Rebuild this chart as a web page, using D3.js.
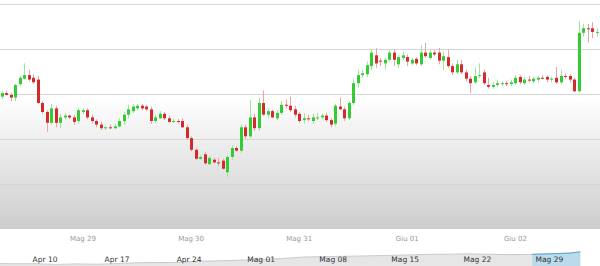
<!DOCTYPE html>
<html>
  <head>
    <meta charset="utf-8" />
    <title>EUR/USD 1h</title>
    <style>
      body {
        margin: 0;
        background: #fff;
      }

      #chart {
        width: 600px;
        height: 266px;
        overflow: hidden;
      }

      text {
        font-family: "DejaVu Sans", Verdana, sans-serif;
      }
    </style>
    <script src="https://d3js.org/d3.v7.min.js"></script>
  </head>
  <body>
    <div id="chart"></div>

    <script type="text/javascript">
      // hourly candles, Mag 28 06:00 -> Giu 02 18:00
      var hours = d3.timeHour.range(new Date(2017, 4, 28, 6), new Date(2017, 5, 2, 19));

      var open = [
        1.1197, 1.1201, 1.1199, 1.1196, 1.1211, 1.1217, 1.1221, 1.1218, 1.1216, 1.1190,
        1.1180, 1.1168, 1.1184, 1.1168, 1.1174, 1.1176, 1.1174, 1.1170, 1.1180, 1.1182,
        1.1174, 1.1170, 1.1166, 1.1162, 1.1163, 1.1162, 1.1164, 1.1170, 1.1177, 1.1181,
        1.1184, 1.1187, 1.1186, 1.1183, 1.1170, 1.1173, 1.1178, 1.1173, 1.1169, 1.1170,
        1.1170, 1.1163, 1.1151, 1.1138, 1.1128, 1.1133, 1.1122, 1.1127, 1.1124, 1.1126,
        1.1113, 1.1130, 1.1140, 1.1137, 1.1163, 1.1153, 1.1174, 1.1162, 1.1190, 1.1177,
        1.1181, 1.1173, 1.1179, 1.1188, 1.1187, 1.1183, 1.1178, 1.1171, 1.1173, 1.1170,
        1.1173, 1.1174, 1.1176, 1.1171, 1.1167, 1.1186, 1.1183, 1.1173, 1.1190, 1.1212,
        1.1221, 1.1222, 1.1231, 1.1243, 1.1237, 1.1234, 1.1238, 1.1246, 1.1233, 1.1240,
        1.1241, 1.1234, 1.1239, 1.1233, 1.1246, 1.1240, 1.1246, 1.1246, 1.1237, 1.1241,
        1.1231, 1.1224, 1.1233, 1.1224, 1.1217, 1.1213, 1.1220, 1.1224, 1.1210, 1.1208,
        1.1210, 1.1211, 1.1212, 1.1211, 1.1212, 1.1219, 1.1212, 1.1216, 1.1214, 1.1216,
        1.1218, 1.1219, 1.1216, 1.1218, 1.1213, 1.1220, 1.1220, 1.1216, 1.1203, 1.1268,
        1.1273, 1.1273, 1.1268
      ];
      var high = [
        1.1203, 1.1203, 1.1201, 1.1211, 1.1220, 1.1234, 1.1227, 1.1222, 1.1220, 1.1192,
        1.1182, 1.1189, 1.1187, 1.1178, 1.1179, 1.1177, 1.1177, 1.1184, 1.1184, 1.1184,
        1.1177, 1.1172, 1.1169, 1.1164, 1.1166, 1.1167, 1.1173, 1.1180, 1.1188, 1.1189,
        1.1189, 1.1189, 1.1188, 1.1186, 1.1177, 1.1181, 1.1180, 1.1176, 1.1172, 1.1172,
        1.1173, 1.1166, 1.1153, 1.1140, 1.1132, 1.1136, 1.1131, 1.1129, 1.1129, 1.1128,
        1.1132, 1.1143, 1.1142, 1.1166, 1.1166, 1.1193, 1.1178, 1.1196, 1.1204, 1.1184,
        1.1183, 1.1182, 1.1192, 1.1194, 1.1197, 1.1187, 1.1180, 1.1179, 1.1177, 1.1178,
        1.1179, 1.1178, 1.1179, 1.1173, 1.1189, 1.1196, 1.1186, 1.1192, 1.1216, 1.1227,
        1.1227, 1.1236, 1.1249, 1.1251, 1.1240, 1.1240, 1.1249, 1.1249, 1.1243, 1.1247,
        1.1244, 1.1240, 1.1241, 1.1254, 1.1257, 1.1249, 1.1249, 1.1251, 1.1247, 1.1249,
        1.1234, 1.1238, 1.1238, 1.1227, 1.1220, 1.1229, 1.1234, 1.1227, 1.1218, 1.1213,
        1.1216, 1.1214, 1.1214, 1.1216, 1.1221, 1.1221, 1.1219, 1.1220, 1.1219, 1.1220,
        1.1221, 1.1221, 1.1219, 1.1230, 1.1227, 1.1223, 1.1222, 1.1218, 1.1281, 1.1278,
        1.1278, 1.1280, 1.1273
      ];
      var low = [
        1.1194, 1.1198, 1.1192, 1.1192, 1.1209, 1.1216, 1.1214, 1.1211, 1.1189, 1.1178,
        1.1158, 1.1166, 1.1163, 1.1162, 1.1172, 1.1172, 1.1166, 1.1167, 1.1178, 1.1172,
        1.1168, 1.1163, 1.1160, 1.1160, 1.1161, 1.1161, 1.1163, 1.1166, 1.1173, 1.1179,
        1.1182, 1.1182, 1.1181, 1.1167, 1.1168, 1.1172, 1.1171, 1.1168, 1.1168, 1.1167,
        1.1162, 1.1150, 1.1136, 1.1127, 1.1127, 1.1121, 1.1121, 1.1123, 1.1120, 1.1116,
        1.1108, 1.1127, 1.1136, 1.1134, 1.1150, 1.1151, 1.1159, 1.1159, 1.1176, 1.1173,
        1.1173, 1.1171, 1.1177, 1.1184, 1.1180, 1.1174, 1.1168, 1.1167, 1.1170, 1.1167,
        1.1171, 1.1172, 1.1169, 1.1163, 1.1164, 1.1182, 1.1170, 1.1171, 1.1188, 1.1207,
        1.1218, 1.1219, 1.1227, 1.1229, 1.1231, 1.1227, 1.1236, 1.1231, 1.1229, 1.1238,
        1.1231, 1.1232, 1.1232, 1.1231, 1.1240, 1.1238, 1.1242, 1.1233, 1.1227, 1.1229,
        1.1221, 1.1222, 1.1222, 1.1214, 1.1201, 1.1211, 1.1218, 1.1210, 1.1206, 1.1206,
        1.1208, 1.1209, 1.1209, 1.1209, 1.1210, 1.1211, 1.1210, 1.1213, 1.1212, 1.1213,
        1.1216, 1.1213, 1.1213, 1.1211, 1.1211, 1.1217, 1.1213, 1.1202, 1.1202, 1.1264,
        1.1257, 1.1262, 1.1264
      ];
      var close = [
        1.1201, 1.1199, 1.1196, 1.1210, 1.1218, 1.1221, 1.1216, 1.1213, 1.1190, 1.1180,
        1.1168, 1.1184, 1.1168, 1.1174, 1.1176, 1.1174, 1.1169, 1.1182, 1.1182, 1.1174,
        1.1170, 1.1166, 1.1162, 1.1163, 1.1162, 1.1164, 1.1170, 1.1177, 1.1183, 1.1186,
        1.1187, 1.1184, 1.1183, 1.1170, 1.1174, 1.1178, 1.1173, 1.1169, 1.1170, 1.1169,
        1.1163, 1.1151, 1.1138, 1.1128, 1.1130, 1.1123, 1.1129, 1.1124, 1.1123, 1.1117,
        1.1130, 1.1140, 1.1137, 1.1163, 1.1153, 1.1174, 1.1162, 1.1190, 1.1177, 1.1181,
        1.1174, 1.1179, 1.1188, 1.1187, 1.1182, 1.1177, 1.1170, 1.1173, 1.1172, 1.1174,
        1.1174, 1.1176, 1.1171, 1.1166, 1.1187, 1.1183, 1.1173, 1.1190, 1.1212, 1.1221,
        1.1223, 1.1232, 1.1246, 1.1234, 1.1236, 1.1238, 1.1246, 1.1238, 1.1241, 1.1243,
        1.1236, 1.1238, 1.1234, 1.1246, 1.1242, 1.1246, 1.1244, 1.1237, 1.1242, 1.1231,
        1.1224, 1.1233, 1.1224, 1.1217, 1.1212, 1.1220, 1.1221, 1.1212, 1.1208, 1.1210,
        1.1212, 1.1212, 1.1211, 1.1213, 1.1218, 1.1213, 1.1216, 1.1215, 1.1217, 1.1218,
        1.1217, 1.1216, 1.1217, 1.1213, 1.1220, 1.1219, 1.1216, 1.1203, 1.1268, 1.1273,
        1.1272, 1.1269, 1.1269
      ];

      // navigator series (every 2 days)
      var navDates = d3.timeDay.every(2).range(new Date(2017, 3, 5), new Date(2017, 5, 3))
        .filter(function (d) { return d.getDate() % 2 === 1; });
      var navValues = [
        1.0665, 1.0645, 1.0650, 1.0610, 1.0640, 1.0620, 1.0655, 1.0700, 1.0710, 1.0720,
        1.0780, 1.0800, 1.0840, 1.0870, 1.0920, 1.1000, 1.1020, 1.1040, 1.1060, 1.1080,
        1.1110, 1.1140, 1.1150, 1.1170, 1.1150, 1.1130, 1.1140, 1.1170, 1.1210, 1.1275
      ];
      var navSelection = [new Date(2017, 4, 27, 8), new Date(2017, 5, 3)];

      var mesi = ["Gen", "Feb", "Mar", "Apr", "Mag", "Giu", "Lug", "Ago", "Set", "Ott", "Nov", "Dic"];
      var it = d3.timeFormatLocale({
        dateTime: "%A %e %B %Y, %X",
        date: "%d/%m/%Y",
        time: "%H:%M:%S",
        periods: ["AM", "PM"],
        days: ["Domenica", "Lunedì", "Martedì", "Mercoledì", "Giovedì", "Venerdì", "Sabato"],
        shortDays: ["Dom", "Lun", "Mar", "Mer", "Gio", "Ven", "Sab"],
        months: ["Gennaio", "Febbraio", "Marzo", "Aprile", "Maggio", "Giugno", "Luglio",
          "Agosto", "Settembre", "Ottobre", "Novembre", "Dicembre"],
        shortMonths: mesi
      });
      var fmt = it.format("%b %d");

      var w = 600;
      var h = 266;
      var plotH = 229;

      var x = d3.scaleTime()
        .domain([new Date(2017, 4, 28, 5, 35), new Date(2017, 5, 2, 18, 46)])
        .range([0, w]);

      var y = d3.scaleLinear().domain([1.105, 1.13]).range([plotH, 4]);

      var navX = d3.scaleTime()
        .domain([new Date(2017, 3, 5, 15), new Date(2017, 5, 2, 22)])
        .range([0, w]);
      var navY = d3.scaleLinear().domain([1.0, 1.14]).range([276, 249.5]);

      var svg = d3.select("#chart").append("svg")
        .attr("width", w)
        .attr("height", h);

      var defs = svg.append("defs");
      var grad = defs.append("linearGradient")
        .attr("id", "plotbg")
        .attr("x1", 0).attr("y1", 0).attr("x2", 0).attr("y2", 1);
      grad.append("stop").attr("offset", 0).attr("stop-color", "#ffffff");
      grad.append("stop").attr("offset", 0.42).attr("stop-color", "#ffffff");
      grad.append("stop").attr("offset", 1).attr("stop-color", "#cdcdcd");

      defs.append("clipPath").attr("id", "plotclip")
        .append("rect").attr("x", 0).attr("y", 0).attr("width", w).attr("height", plotH);

      defs.append("clipPath").attr("id", "selclip")
        .append("rect")
        .attr("x", navX(navSelection[0]))
        .attr("y", 230)
        .attr("width", navX(navSelection[1]) - navX(navSelection[0]))
        .attr("height", 60);

      // plot background
      svg.append("rect")
        .attr("x", 0).attr("y", 0)
        .attr("width", w).attr("height", plotH)
        .attr("fill", "url(#plotbg)");

      // grid lines
      svg.append("g")
        .selectAll("line")
        .data(y.ticks(5).filter(function (t) { return y(t) < plotH - 2; }))
        .enter()
        .append("line")
        .attr("x1", 0).attr("x2", w)
        .attr("y1", function (d) { return Math.round(y(d)) + 0.5; })
        .attr("y2", function (d) { return Math.round(y(d)) + 0.5; })
        .attr("stroke", "#d6d6d6");

      // candles
      var candles = svg.append("g").attr("clip-path", "url(#plotclip)");
      var idx = d3.range(hours.length);

      candles.selectAll("line")
        .data(idx)
        .enter()
        .append("line")
        .attr("x1", function (i) { return Math.round(x(hours[i])) + 0.5; })
        .attr("x2", function (i) { return Math.round(x(hours[i])) + 0.5; })
        .attr("y1", function (i) { return y(high[i]); })
        .attr("y2", function (i) { return y(low[i]); })
        .attr("stroke", function (i) { return close[i] >= open[i] ? "#9ee39e" : "#eaa4a4"; })
        .attr("stroke-width", 1);

      candles.selectAll("rect")
        .data(idx)
        .enter()
        .append("rect")
        .attr("x", function (i) { return Math.round(x(hours[i])) - 1; })
        .attr("width", 3)
        .attr("y", function (i) { return y(Math.max(open[i], close[i])); })
        .attr("height", function (i) {
          return Math.max(1, Math.abs(y(open[i]) - y(close[i])));
        })
        .attr("fill", function (i) { return close[i] >= open[i] ? "#33cc33" : "#d22b2b"; });

      // x axis labels
      svg.append("g")
        .selectAll("text")
        .data(x.ticks(d3.timeDay.every(1)))
        .enter()
        .append("text")
        .attr("x", function (d) { return x(d); })
        .attr("y", 240.5)
        .attr("text-anchor", "middle")
        .attr("font-size", 7)
        .attr("fill", "#999999")
        .text(fmt);

      // navigator
      var area = d3.area()
        .x(function (d, i) { return navX(navDates[i]); })
        .y0(300)
        .y1(function (d) { return navY(d); });
      var line = d3.line()
        .x(function (d, i) { return navX(navDates[i]); })
        .y(function (d) { return navY(d); });

      svg.append("path")
        .attr("d", area(navValues))
        .attr("fill", "#e6e6e6");
      svg.append("path")
        .attr("d", line(navValues))
        .attr("fill", "none")
        .attr("stroke", "#cbcbcb");

      var sel = svg.append("g").attr("clip-path", "url(#selclip)");
      sel.append("path")
        .attr("d", area(navValues))
        .attr("fill", "#b9dbeb");
      sel.append("path")
        .attr("d", line(navValues))
        .attr("fill", "none")
        .attr("stroke", "#5ba3cc");

      svg.append("g")
        .selectAll("text")
        .data(navX.ticks(d3.timeMonday.every(1)))
        .enter()
        .append("text")
        .attr("x", function (d) { return navX(d) + 45 - navX(new Date(2017, 3, 10)); })
        .attr("y", 262)
        .attr("text-anchor", "middle")
        .attr("font-size", 7.5)
        .attr("fill", "#333333")
        .text(fmt);
    </script>
  </body>
</html>
